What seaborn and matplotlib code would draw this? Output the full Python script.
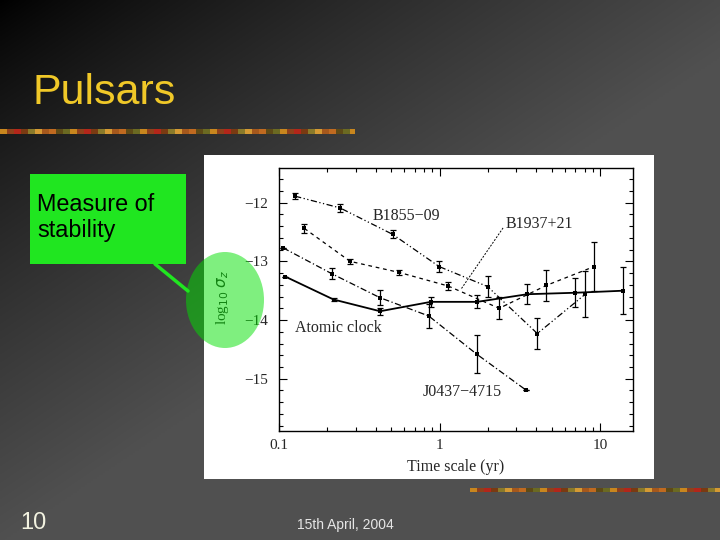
import numpy as np
import pandas as pd
import matplotlib
matplotlib.use("Agg")
import matplotlib.pyplot as plt
import seaborn as sns
from matplotlib.patches import Rectangle, Ellipse
from matplotlib.lines import Line2D
from matplotlib.ticker import FixedLocator, FixedFormatter, NullFormatter

# ---------------- data ----------------
series_names = ["B1855\u221209", "B1937+21", "J0437\u22124715", "Atomic clock"]

b1855_t = [0.126, 0.240, 0.51, 0.995, 1.99, 4.06, 8.07]
b1855_s = [-11.89, -12.09, -12.54, -13.09, -13.43, -14.23, -13.56]
b1855_e = [0.05, 0.07, 0.07, 0.10, 0.18, 0.27, 0.39]

b1937_t = [0.144, 0.277, 0.562, 1.13, 2.35, 4.62, 9.14]
b1937_s = [-12.44, -13.00, -13.19, -13.42, -13.80, -13.41, -13.09]
b1937_e = [0.075, 0.045, 0.045, 0.07, 0.19, 0.27, 0.42]

j0437_t = [0.106, 0.213, 0.426, 0.855, 1.70, 3.44]
j0437_s = [-12.77, -13.21, -13.62, -13.93, -14.58, -15.19]
j0437_e = [0.0, 0.09, 0.13, 0.21, 0.33, 0.0]

clock_t = [0.1095, 0.2185, 0.426, 0.883, 1.714, 3.52, 7.0, 13.96]
clock_s = [-13.26, -13.65, -13.85, -13.69, -13.69, -13.56, -13.535, -13.50]
clock_e = [0.0, 0.03, 0.06, 0.085, 0.11, 0.17, 0.25, 0.40]

x_ticks = [0.1, 1, 10]
x_tick_labels = ["0.1", "1", "10"]
y_ticks = [-12, -13, -14, -15]
y_tick_labels = ["\u221212", "\u221213", "\u221214", "\u221215"]

title_text = "Pulsars"
callout_lines = ["Measure of", "stability"]
slide_number = "10"
date_text = "15th April, 2004"

# ---------------- build table ----------------
frames = []
for name, t, s in zip(series_names,
                      [b1855_t, b1937_t, j0437_t, clock_t],
                      [b1855_s, b1937_s, j0437_s, clock_s]):
    frames.append(pd.DataFrame({"t": t, "sigma": s, "series": name}))
df = pd.concat(frames, ignore_index=True)

sns.set_style("ticks")
plt.rcParams["font.family"] = ["Liberation Sans", "DejaVu Sans"]

W, H = 720, 540
fig = plt.figure(figsize=(7.2, 5.4), dpi=100)

# ---------------- slide background ----------------
bg = fig.add_axes([0, 0, 1, 1], zorder=-10)
bg.set_xlim(0, W)
bg.set_ylim(H, 0)
bg.axis("off")
yy, xx = np.mgrid[0:H:2, 0:W:2]
v = np.clip(0.9 * xx / W + yy / H, 0, 1) ** 0.8 * 80 / 255.0
img = np.dstack([v, v, v])
bg.imshow(img, extent=[0, W, H, 0], aspect="auto", interpolation="bilinear")

# decorative strips
strip_cols = ["#c8861e", "#7a3a12", "#a5581c", "#6b6a22", "#b3261a",
              "#d59a34", "#5e4a16", "#91401a", "#8a7a2a", "#c06a20"]
def strip(x0, x1, y0, h):
    bw = 7
    i = 0
    x = x0
    while x < x1:
        bg.add_patch(Rectangle((x, y0), min(bw, x1 - x), h,
                               facecolor=strip_cols[(i * 7) % len(strip_cols)],
                               edgecolor="none"))
        x += bw
        i += 1
strip(0, 355, 129, 5)
strip(470, 720, 488, 4)

# white picture panel
bg.add_patch(Rectangle((204, 155), 450, 324, facecolor="white", edgecolor="none"))

# ---------------- chart ----------------
ax = fig.add_axes([279 / W, 1 - 431 / H, 354 / W, 263 / H], zorder=0)
ax.set_facecolor("white")
dashes = {series_names[0]: (5, 2, 1, 2, 1, 2),
          series_names[1]: (3, 3),
          series_names[2]: (5, 2, 1, 2),
          series_names[3]: ""}
markers = {n: "s" for n in series_names}
sns.lineplot(data=df, x="t", y="sigma", style="series", dashes=dashes,
             markers=markers, color="black", linewidth=0.9, markersize=3.5,
             markeredgewidth=0, estimator=None, sort=True, legend=False, ax=ax)
for ln in ax.lines:
    if ln.get_linestyle() == "-":
        ln.set_linewidth(1.3)

for t, s, e in [(b1855_t, b1855_s, b1855_e), (b1937_t, b1937_s, b1937_e),
                (j0437_t, j0437_s, j0437_e), (clock_t, clock_s, clock_e)]:
    ax.errorbar(t, s, yerr=e, fmt="none", ecolor="black", elinewidth=0.9,
                capsize=2.2, capthick=0.9)

ax.set_xscale("log")
ax.set_xlim(0.1, 16.0)
ax.set_ylim(-15.89, -11.41)
ax.xaxis.set_major_locator(FixedLocator(x_ticks))
ax.xaxis.set_major_formatter(FixedFormatter(x_tick_labels))
ax.xaxis.set_minor_formatter(NullFormatter())
ax.yaxis.set_major_locator(FixedLocator(y_ticks))
ax.yaxis.set_major_formatter(FixedFormatter(y_tick_labels))
ax.yaxis.set_minor_locator(FixedLocator(np.arange(-15.8, -11.41, 0.2)))

serif = ["Liberation Serif", "DejaVu Serif"]
ax.tick_params(which="both", direction="in", top=True, right=True,
               color="black", width=0.8)
ax.tick_params(which="major", length=5.5, labelsize=11, pad=6)
ax.tick_params(which="minor", length=3)
ax.tick_params(axis="y", which="major", pad=8)
for lab in ax.get_xticklabels() + ax.get_yticklabels():
    lab.set_family(serif)
for sp in ax.spines.values():
    sp.set_color("black")
    sp.set_linewidth(1.0)

ax.set_xlabel("Time scale (yr)", family=serif, fontsize=11.5)
ax.xaxis.label.set_va("center")
ax.xaxis.set_label_coords(0.5, -0.137)
ax.set_ylabel(r"log$_{10}$ $\sigma_z$", family=serif, fontsize=11)
ax.yaxis.label.set_va("center")
ax.yaxis.set_label_coords(-0.161, 0.506)

ax.text(0.384, -12.23, series_names[0], family=serif, fontsize=11.5,
        va="center", ha="left")
ax.text(2.58, -12.36, series_names[1], family=serif, fontsize=11.5,
        va="center", ha="left")
ax.text(0.126, -14.14, series_names[3], family=serif, fontsize=11.5,
        va="center", ha="left")
ax.text(0.784, -15.23, series_names[2], family=serif, fontsize=11.5,
        va="center", ha="left")
ax.plot([1.369, 2.485], [-13.462, -12.43], color="black", lw=0.7,
        ls=(0, (2, 1.5)))

# ---------------- slide overlay ----------------
ov = fig.add_axes([0, 0, 1, 1], zorder=10)
ov.set_xlim(0, W)
ov.set_ylim(H, 0)
ov.axis("off")
ov.patch.set_alpha(0)

ov.text(33, 104, title_text, color="#f0c828", fontsize=31, va="baseline",
        ha="left")
ov.add_patch(Rectangle((30, 174), 156, 90, facecolor="#20e620",
                       edgecolor="none"))
ov.text(37, 211, callout_lines[0], color="black", fontsize=16.8,
        va="baseline", ha="left")
ov.text(37, 237, callout_lines[1], color="black", fontsize=16.8,
        va="baseline", ha="left")
ov.add_line(Line2D([155, 188], [264, 291], color="#20e620", lw=2.5))
ov.add_patch(Ellipse((225, 300), 78, 96, facecolor=(0.0, 0.88, 0.0),
                     alpha=0.5, edgecolor="none"))
ov.text(20, 529, slide_number, color="#f2f2e0", fontsize=17, va="baseline",
        ha="left")
ov.text(297, 529, date_text, color="#e6e6e6", fontsize=10, va="baseline",
        ha="left")

fig.savefig("out.png", dpi=100)
